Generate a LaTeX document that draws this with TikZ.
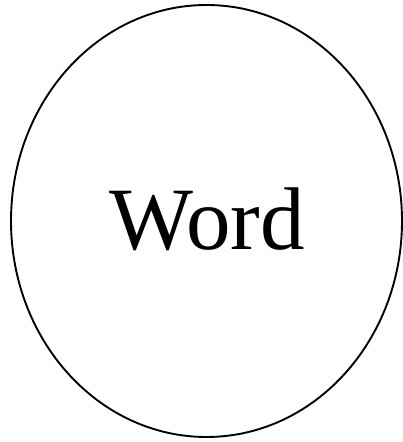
\documentclass[tikz,border=0pt]{standalone}
\usepackage{fontspec}
\setmainfont{Liberation Serif}
\tikzset{
  outline/.style={draw=black, line width=1.9pt},
  wordtext/.style={font=\fontsize{89}{100}\selectfont, inner sep=0pt, anchor=base}
}
\begin{document}
\begin{tikzpicture}[x=1pt,y=1pt]
\useasboundingbox (0,0) rectangle (403,442);
\draw[outline] (206.5,221) ellipse [x radius=195.5, y radius=216];
\node[wordtext] (w) at (207,192) {Word};
\end{tikzpicture}
\end{document}
